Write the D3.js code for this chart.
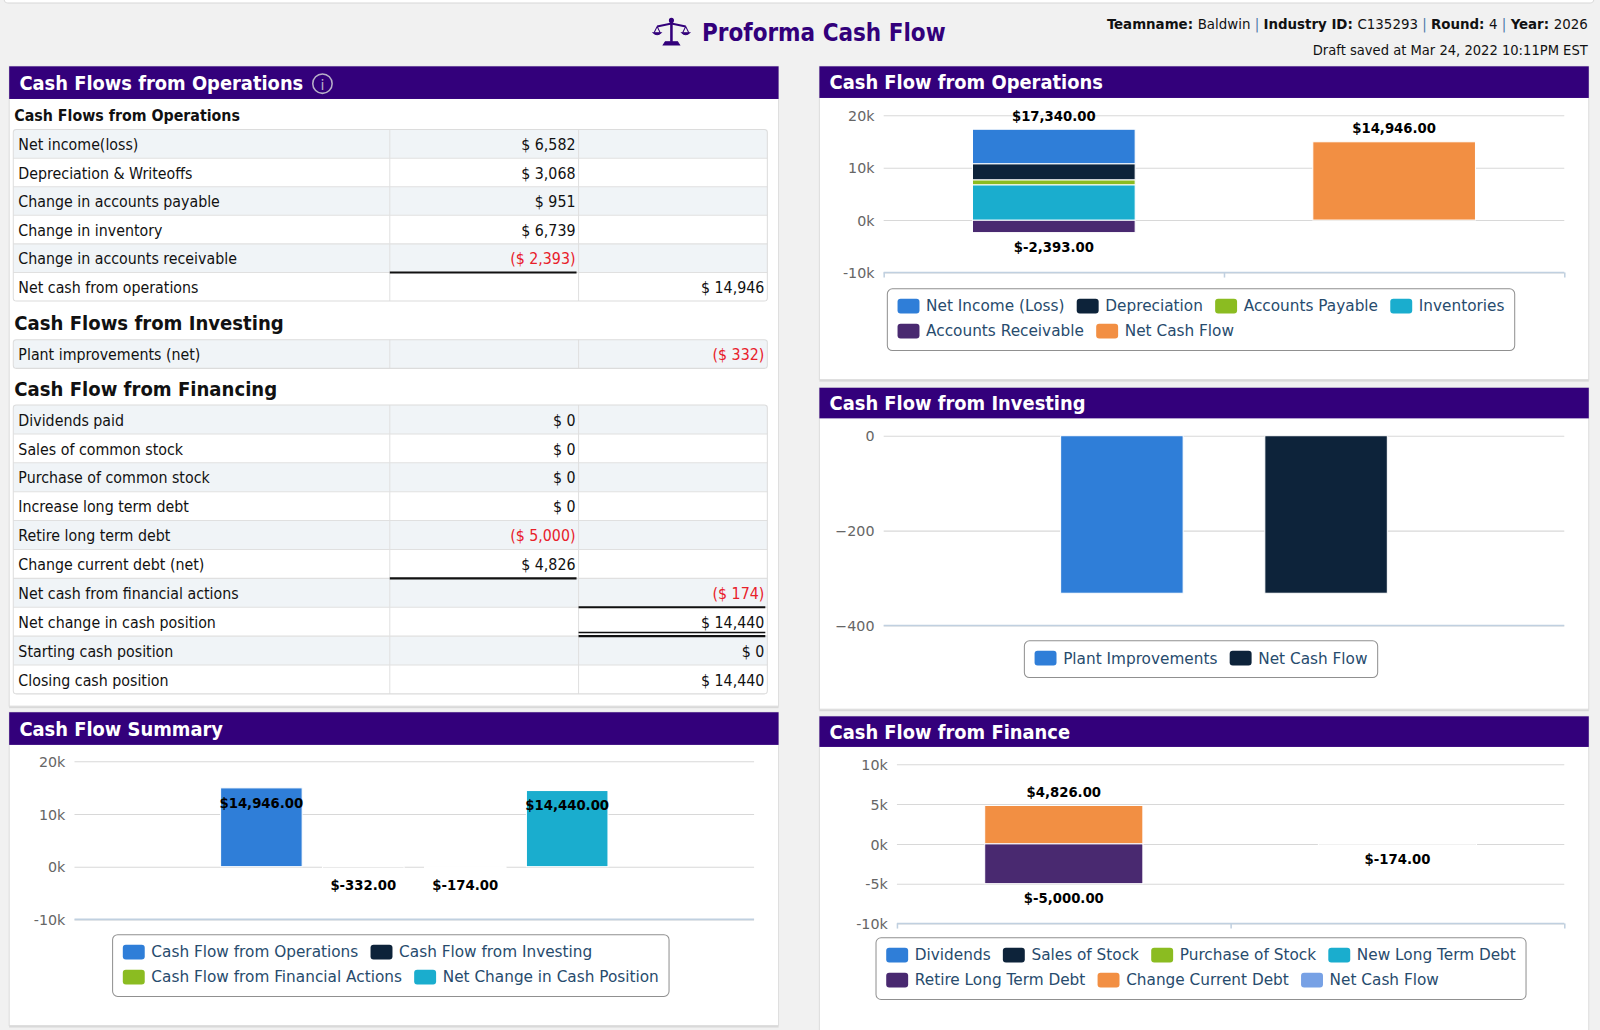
<!DOCTYPE html>
<html><head><meta charset="utf-8">
<script src="https://cdn.jsdelivr.net/npm/d3@7/dist/d3.min.js"></script>
<style>
body{margin:0;background:#f1f1f1;width:1600px;height:1030px;overflow:hidden;}
svg{display:block}
</style></head><body>
<svg id="c" width="1600" height="1030"></svg>
<script>
// ---------------- DATA ----------------
const opsTableLabels = ["Net income(loss)", "Depreciation & Writeoffs", "Change in accounts payable", "Change in inventory", "Change in accounts receivable"];
const opsTableValues = [6582, 3068, 951, 6739, -2393];
const netOpsValue = 14946;
const investTableLabels = ["Plant improvements (net)"];
const investTableValues = [-332];
const finTableLabels = ["Dividends paid", "Sales of common stock", "Purchase of common stock", "Increase long term debt", "Retire long term debt", "Change current debt (net)"];
const finTableValues = [0, 0, 0, 0, -5000, 4826];
const netFinValue = -174;
const netChangeValue = 14440;
const startingCash = 0;
const closingCash = 14440;

const opsChartSeries = ["Net Income (Loss)", "Depreciation", "Accounts Payable", "Inventories", "Accounts Receivable", "Net Cash Flow"];
const opsChartValues = [[6582, null], [3068, null], [951, null], [6739, null], [-2393, null], [null, 14946]];
const opsTicks = [-10000, 0, 10000, 20000];

const investChartSeries = ["Plant Improvements", "Net Cash Flow"];
const investChartValues = [-332, -332];
const investTicks = [-400, -200, 0];

const summarySeries = ["Cash Flow from Operations", "Cash Flow from Investing", "Cash Flow from Financial Actions", "Net Change in Cash Position"];
const summaryValues = [14946, -332, -174, 14440];
const summaryTicks = [-10000, 0, 10000, 20000];

const financeSeries = ["Dividends", "Sales of Stock", "Purchase of Stock", "New Long Term Debt", "Retire Long Term Debt", "Change Current Debt", "Net Cash Flow"];
const financeValues = [[0, null], [0, null], [0, null], [0, null], [-5000, null], [4826, null], [null, -174]];
const financeTicks = [-10000, -5000, 0, 5000, 10000];

const palette = ["#2f7ed8", "#0d233a", "#8bbc21", "#1aadce", "#492970", "#f28f43", "#77a1e5"];

// ---------------- STYLE ----------------
const PURPLE = "#33007b";
const COND = "'DejaVu Sans Condensed','DejaVu Sans',sans-serif";
const SANS = "'DejaVu Sans',Verdana,sans-serif";
const RED = "#e8202a";

// the layout below is laid out on a 1568-wide grid and scaled to the 1600px page
const svg = d3.select("#c").append("g").attr("transform", `scale(${1600 / 1568})`);

// top strip
svg.append("rect").attr("x", 4).attr("y", -10).attr("width", 1558).attr("height", 13).attr("rx", 4)
  .attr("fill", "#fff").attr("stroke", "#d8d8d8");

// ---------------- HEADER ----------------
const icon = svg.append("g").attr("fill", PURPLE).attr("stroke", PURPLE);
icon.append("circle").attr("cx", 658).attr("cy", 20).attr("r", 2);
icon.append("line").attr("x1", 658).attr("y1", 20).attr("x2", 658).attr("y2", 41).attr("stroke-width", 2.5);
icon.append("path").attr("d", "M644,26 L658,23 L672,26").attr("fill", "none").attr("stroke-width", 2);
icon.append("path").attr("d", "M652,41 L664,41 L666,44 L650,44 Z").attr("stroke-width", 1);
icon.append("path").attr("d", "M644,26 L641,32 M644,26 L647,32").attr("fill", "none").attr("stroke-width", 1);
icon.append("path").attr("d", "M640,32 Q644,36 648,32 Z").attr("stroke-width", 1);
icon.append("path").attr("d", "M672,26 L669,32 M672,26 L675,32").attr("fill", "none").attr("stroke-width", 1);
icon.append("path").attr("d", "M668,32 Q672,36 676,32 Z").attr("stroke-width", 1);

svg.append("text").attr("x", 688).attr("y", 40).attr("fill", PURPLE)
  .style("font-family", COND).style("font-weight", "bold").style("font-size", "23.5px")
  .text("Proforma Cash Flow");

const infoParts = [["Teamname: ", true], ["Baldwin", false], [" | ", "sep"], ["Industry ID: ", true], ["C135293", false], [" | ", "sep"],
  ["Round: ", true], ["4", false], [" | ", "sep"], ["Year: ", true], ["2026", false]];
const info = svg.append("text").attr("x", 1556).attr("y", 28).attr("text-anchor", "end")
  .style("font-family", COND).style("font-size", "14.6px").attr("fill", "#111");
infoParts.forEach(p => {
  info.append("tspan").text(p[0])
    .style("font-weight", p[1] === true ? "bold" : "normal")
    .attr("fill", p[1] === "sep" ? "#4a78a8" : "#111")
    .attr("xml:space", "preserve");
});
svg.append("text").attr("x", 1556).attr("y", 54).attr("text-anchor", "end")
  .style("font-family", COND).style("font-size", "14.3px").attr("fill", "#111")
  .text("Draft saved at Mar 24, 2022 10:11PM EST");

// ---------------- PANELS ----------------
function panel(x, y, w, h, hh, title) {
  const g = svg.append("g");
  g.append("rect").attr("x", x).attr("y", y + 2).attr("width", w).attr("height", h).attr("fill", "#d9d9d9");
  g.append("rect").attr("x", x).attr("y", y).attr("width", w).attr("height", h).attr("fill", "#fff").attr("stroke", "#dedede");
  g.append("rect").attr("x", x).attr("y", y).attr("width", w).attr("height", hh).attr("fill", PURPLE);
  g.append("text").attr("x", x + 10).attr("y", y + hh / 2 + 7).attr("fill", "#fff")
    .style("font-family", COND).style("font-weight", "bold").style("font-size", "19.5px").text(title);
  return g;
}
panel(9, 65, 754, 627, 32, "Cash Flows from Operations");
// info icon
svg.append("circle").attr("cx", 316).attr("cy", 82).attr("r", 9.5).attr("fill", "none").attr("stroke", "#b8b0c8").attr("stroke-width", 1.5);
svg.append("text").attr("x", 316).attr("y", 88).attr("text-anchor", "middle").attr("fill", "#b8b0c8")
  .style("font-family", SANS).style("font-size", "14px").text("i");

panel(9, 698, 754, 307, 32, "Cash Flow Summary");
panel(803, 65, 754, 307, 31, "Cash Flow from Operations");
panel(803, 380, 754, 315, 30, "Cash Flow from Investing");
panel(803, 702, 754, 340, 30, "Cash Flow from Finance");

// ---------------- TABLE ----------------
const money = d3.format(",");
function fmtTable(v) {
  if (v == null) return "";
  return v < 0 ? "($ " + money(-v) + ")" : "$ " + money(v);
}
const colX = [13, 382, 567, 752];

function sectionTitle(y, text, size) {
  svg.append("text").attr("x", 14).attr("y", y).attr("fill", "#111")
    .style("font-family", COND).style("font-weight", "bold").style("font-size", size + "px").text(text);
}

function drawTable(top, rowH, rows) {
  const g = svg.append("g");
  const bg = g.append("g"), lines = g.append("g"), txt = g.append("g"), rules = g.append("g");
  const h = rowH * rows.length;
  rows.forEach((r, i) => {
    const y = top + i * rowH;
    bg.append("rect").attr("x", colX[0]).attr("y", y).attr("width", colX[3] - colX[0]).attr("height", rowH)
      .attr("fill", i % 2 === 0 ? "#f0f4f7" : "#fff");
    if (i > 0) lines.append("line").attr("x1", colX[0]).attr("x2", colX[3]).attr("y1", y).attr("y2", y).attr("stroke", "#e0e0e0");
    const ty = y + rowH / 2 + 6;
    txt.append("text").attr("x", colX[0] + 5).attr("y", ty).attr("fill", "#111")
      .style("font-family", COND).style("font-size", "15.5px").text(r.label);
    [r.v2, r.v3].forEach((v, k) => {
      if (v == null) return;
      txt.append("text").attr("x", colX[k + 2] - 3).attr("y", ty).attr("text-anchor", "end")
        .attr("fill", v < 0 ? RED : "#111")
        .style("font-family", COND).style("font-size", "15.5px").text(fmtTable(v));
    });
    if (r.under != null) {
      const c = r.under;
      rules.append("line").attr("x1", colX[c]).attr("x2", colX[c + 1] - 2).attr("y1", y + rowH).attr("y2", y + rowH)
        .attr("stroke", "#111").attr("stroke-width", 2);
      if (r.double) rules.append("line").attr("x1", colX[c]).attr("x2", colX[c + 1] - 2).attr("y1", y + rowH - 3.5).attr("y2", y + rowH - 3.5)
        .attr("stroke", "#111").attr("stroke-width", 1.5);
    }
  });
  [colX[1], colX[2]].forEach(x => lines.append("line").attr("x1", x).attr("x2", x).attr("y1", top).attr("y2", top + h).attr("stroke", "#e0e0e0"));
  lines.append("rect").attr("x", colX[0]).attr("y", top).attr("width", colX[3] - colX[0]).attr("height", h).attr("rx", 3)
    .attr("fill", "none").attr("stroke", "#dcdcdc");
}

sectionTitle(119, "Cash Flows from Operations", 15.5);
const opsRows = opsTableLabels.map((l, i) => ({ label: l, v2: opsTableValues[i], under: i === opsTableLabels.length - 1 ? 1 : null }));
opsRows.push({ label: "Net cash from operations", v3: netOpsValue });
drawTable(127, 28, opsRows);

sectionTitle(323, "Cash Flows from Investing", 19.7);
drawTable(333, 28, investTableLabels.map((l, i) => ({ label: l, v3: investTableValues[i] })));

sectionTitle(388, "Cash Flow from Financing", 19.7);
const finRows = finTableLabels.map((l, i) => ({ label: l, v2: finTableValues[i], under: i === finTableLabels.length - 1 ? 1 : null }));
finRows.push({ label: "Net cash from financial actions", v3: netFinValue, under: 2 });
finRows.push({ label: "Net change in cash position", v3: netChangeValue, under: 2, double: true });
finRows.push({ label: "Starting cash position", v3: startingCash });
finRows.push({ label: "Closing cash position", v3: closingCash });
drawTable(397, 28.3, finRows);

// ---------------- CHARTS ----------------
function fmtLabel(v) { return "$" + (v < 0 ? "-" : "") + d3.format(",.2f")(Math.abs(v)); }
function kFmt(v) { return (v / 1000) + "k"; }

function axesAndGrid(g, cfg, y) {
  const w = cfg.right - cfg.left;
  const grid = g.append("g").attr("transform", `translate(${cfg.left},0)`)
    .call(d3.axisLeft(y).tickValues(cfg.ticks).tickSize(-w).tickFormat(""));
  grid.select(".domain").remove();
  grid.selectAll("line").attr("stroke", "#d8d8d8").attr("stroke-width", 1);
  const lab = g.append("g").attr("transform", `translate(${cfg.left - 9},0)`)
    .call(d3.axisLeft(y).tickValues(cfg.ticks).tickSize(0).tickPadding(0).tickFormat(cfg.tickFormat));
  lab.select(".domain").remove();
  lab.selectAll("text").attr("fill", "#666").style("font-family", SANS).style("font-size", "14px").attr("dy", "0.36em");
}

function bottomAxis(g, cfg, y, nCats) {
  const xb = d3.scaleLinear().domain([0, nCats]).range([cfg.left, cfg.right]);
  const ax = g.append("g").attr("transform", `translate(0,${y(cfg.domain[0])})`)
    .call(d3.axisBottom(xb).tickValues(cfg.catTicks ? d3.range(nCats + 1) : []).tickSize(5).tickFormat(""));
  ax.select(".domain").attr("stroke", "#c0d0e0").attr("stroke-width", 1.5).attr("d", `M${cfg.left},0H${cfg.right}`);
  ax.selectAll(".tick line").attr("stroke", "#c0d0e0").attr("stroke-width", 1.5);
}

function legend(g, cfg, names) {
  const lg = g.append("g");
  const symW = 21.5, symH = 14.5, gapT = 6.5, gapI = 12, pad = 10;
  const items = [];
  names.forEach((n, i) => {
    const it = lg.append("g");
    it.append("rect").attr("width", symW).attr("height", symH).attr("rx", 3).attr("fill", palette[i]).attr("y", -symH / 2);
    const t = it.append("text").attr("x", symW + gapT).attr("dy", "0.35em").attr("fill", "#274b6d")
      .style("font-family", SANS).style("font-size", "15px").text(n);
    items.push({ g: it, w: symW + gapT + t.node().getComputedTextLength() });
  });
  const rows = [];
  items.forEach((it, i) => {
    const r = Math.floor(i / cfg.perRow);
    (rows[r] = rows[r] || []).push(it);
  });
  const rowW = rows.map(r => d3.sum(r, d => d.w) + gapI * (r.length - 1));
  const boxW = d3.max(rowW) + pad * 2;
  const boxH = 17 + (rows.length - 1) * 24.5 + 19;
  const cx = cfg.panelX + 754 / 2 - 3;
  const bx = cx - boxW / 2, by = cfg.legendTop;
  lg.insert("rect", ":first-child").attr("x", bx).attr("y", by).attr("width", boxW).attr("height", boxH).attr("rx", 5)
    .attr("fill", "#fff").attr("stroke", "#909090").attr("stroke-width", 1);
  rows.forEach((r, ri) => {
    let x = bx + pad;
    r.forEach(it => { it.g.attr("transform", `translate(${x},${by + 17 + ri * 24.5})`); x += it.w + gapI; });
  });
}

function labelText(g, x, yy, txt) {
  g.append("text").attr("x", x).attr("y", yy).attr("dy", "0.35em").attr("text-anchor", "middle").attr("fill", "#000")
    .style("font-family", SANS).style("font-weight", "bold").style("font-size", "13px").text(txt);
}

// a column with a 1px white border; slivers under 2px are hidden by that border
function column(g, x, w, yTop, h, color) {
  g.append("rect").attr("x", x).attr("width", w).attr("y", yTop).attr("height", h)
    .attr("fill", color).attr("fill-opacity", h < 2 ? 0 : 1)
    .attr("stroke", "#fff").attr("stroke-width", 1);
}

// stacked chart (categories on x, series stacked)
function stackedChart(cfg, names, values) {
  const g = svg.append("g");
  const y = d3.scaleLinear().domain(cfg.domain).range([cfg.bottom, cfg.top]);
  const nCats = values[0].length;
  axesAndGrid(g, cfg, y);
  const x = d3.scaleBand().domain(d3.range(nCats)).range([cfg.left, cfg.right]).paddingInner(cfg.pad * 2).paddingOuter(cfg.pad);
  for (let c = 0; c < nCats; c++) {
    let pos = 0, neg = 0, hasPos = false, hasNeg = false;
    // Highcharts stacks the last series at the bottom
    for (let s = names.length - 1; s >= 0; s--) {
      const v = values[s][c];
      if (v == null) continue;
      if (v >= 0) hasPos = hasPos || v > 0; else hasNeg = true;
      if (v === 0) continue;
      const y0 = v >= 0 ? pos : neg, y1 = y0 + v;
      if (v >= 0) pos = y1; else neg = y1;
      column(g, x(c), x.bandwidth(), y(Math.max(y0, y1)), Math.abs(y(y0) - y(y1)), palette[s]);
    }
    const cx = x(c) + x.bandwidth() / 2;
    if (hasPos) labelText(g, cx, y(pos) - 13, fmtLabel(pos));
    if (hasNeg) labelText(g, cx, y(neg) + 14, fmtLabel(neg));
  }
  bottomAxis(g, cfg, y, nCats);
  legend(g, cfg, names);
}

// grouped chart (one category, series side by side)
function groupedChart(cfg, names, values) {
  const g = svg.append("g");
  const y = d3.scaleLinear().domain(cfg.domain).range([cfg.bottom, cfg.top]);
  axesAndGrid(g, cfg, y);
  const w = cfg.right - cfg.left;
  const x = d3.scaleBand().domain(names).range([cfg.left + w * cfg.groupPad, cfg.right - w * cfg.groupPad])
    .paddingInner(cfg.pointPad * 2).paddingOuter(cfg.pointPad);
  names.forEach((n, i) => {
    const v = values[i];
    column(g, x(n), x.bandwidth(), y(Math.max(0, v)), Math.abs(y(0) - y(v)), palette[i]);
  });
  bottomAxis(g, cfg, y, 1);
  if (cfg.labels) names.forEach((n, i) => {
    const v = values[i], cx = x(n) + x.bandwidth() / 2;
    labelText(g, cx, y(v) + (v < 0 ? 17 : 15), fmtLabel(v));
  });
  legend(g, cfg, names);
}

stackedChart({ left: 866, right: 1533, top: 113, bottom: 267, domain: [-10000, 20000], ticks: opsTicks, tickFormat: kFmt,
  pad: 0.261, catTicks: true, panelX: 803, legendTop: 283, perRow: 4 }, opsChartSeries, opsChartValues);

groupedChart({ left: 866, right: 1533, top: 427, bottom: 613, domain: [-400, 0], ticks: investTicks, tickFormat: d3.format("d"),
  groupPad: 0.2, pointPad: 0.2, catTicks: false, panelX: 803, legendTop: 628, perRow: 2, labels: false }, investChartSeries, investChartValues);

groupedChart({ left: 73, right: 739, top: 746, bottom: 901, domain: [-10000, 20000], ticks: summaryTicks, tickFormat: kFmt,
  groupPad: 0.2, pointPad: 0.1, catTicks: false, panelX: 9, legendTop: 916, perRow: 2, labels: true }, summarySeries, summaryValues);

stackedChart({ left: 879, right: 1533, top: 749, bottom: 905, domain: [-10000, 10000], ticks: financeTicks, tickFormat: kFmt,
  pad: 0.263, catTicks: true, panelX: 803, legendTop: 919, perRow: 4 }, financeSeries, financeValues);
</script>
</body></html>
